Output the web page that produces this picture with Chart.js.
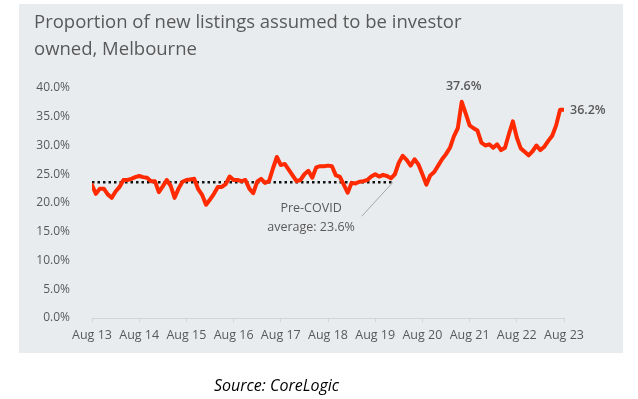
<!DOCTYPE html>
<html>
<head>
<meta charset="utf-8">
<script src="https://cdn.jsdelivr.net/npm/chart.js@4.4.1/dist/chart.umd.min.js"></script>
<style>
  html, body { margin: 0; padding: 0; background: #fff; }
  #wrap { width: 638px; height: 399px; }
</style>
</head>
<body>
<div id="wrap"><canvas id="chart" width="638" height="399"></canvas></div>
<script>
// tick labels on the x axis, one per year (every 12 months)
const yearLabels = ['Aug 13', 'Aug 14', 'Aug 15', 'Aug 16', 'Aug 17', 'Aug 18',
  'Aug 19', 'Aug 20', 'Aug 21', 'Aug 22', 'Aug 23'];
// monthly share of new listings assumed investor owned (%), Aug 13 .. Aug 23
const investorShare = [
  23.1, 21.6, 22.5, 22.5, 21.5, 20.9, 22.0, 22.8, 24.0, 24.0, 24.2, 24.5,
  24.7, 24.5, 24.4, 23.8, 23.8, 21.9, 22.9, 24.0, 23.0, 20.9, 22.5, 23.7,
  24.0, 24.1, 24.2, 22.4, 21.4, 19.7, 20.6, 21.6, 22.8, 22.8, 23.3, 24.6,
  24.0, 24.0, 23.8, 24.0, 22.5, 21.7, 23.7, 24.2, 23.5, 23.8, 26.0, 28.0,
  26.6, 26.8, 25.8, 24.8, 23.8, 24.0, 25.0, 25.6, 24.4, 26.2, 26.4, 26.4,
  26.5, 26.4, 24.8, 24.6, 23.2, 21.8, 23.5, 23.4, 23.7, 23.8, 24.0, 24.6,
  25.0, 24.6, 24.9, 24.7, 24.3, 25.0, 27.0, 28.2, 27.5, 26.5, 27.6, 26.7,
  25.0, 23.2, 24.8, 25.4, 26.5, 27.6, 28.5, 29.6, 31.6, 33.0, 37.6, 35.6,
  33.5, 33.0, 32.6, 30.5, 30.0, 30.2, 29.6, 30.2, 29.2, 29.6, 32.0, 34.2,
  31.4, 29.5, 28.9, 28.3, 29.0, 30.0, 29.2, 29.8, 30.8, 31.7, 33.5, 36.2,
  36.2
];
// pre-COVID average and the month index where that dotted line stops
const preCovidAvg = 23.6;
const preCovidEnd = 76.5;

const linePoints = investorShare.map((v, i) => ({ x: i, y: v }));
const avgPoints = [{ x: 0, y: preCovidAvg }, { x: preCovidEnd, y: preCovidAvg }];

const grey = '#595959';

//panel background
const panelPlugin = {
  id: 'panel',
  beforeDraw(chart) {
    const ctx = chart.ctx;
    ctx.save();
    ctx.fillStyle = '#ffffff';
    ctx.fillRect(0, 0, chart.width, chart.height);
    ctx.fillStyle = '#e9ecef';
    ctx.fillRect(19, 4, 604, 349);
    ctx.restore();
  }
};

//title, source, annotation and value labels
const textPlugin = {
  id: 'texts',
  afterDraw(chart) {
    const ctx = chart.ctx;
    const xs = chart.scales.x;
    const ys = chart.scales.y;
    ctx.save();
    ctx.fillStyle = grey;
    ctx.font = '18.5px "Open Sans"';
    ctx.textAlign = 'left';
    ctx.textBaseline = 'middle';
    ctx.fillText('Proportion of new listings assumed to be investor', 34, 23);
    ctx.fillText('owned, Melbourne', 34, 50);

    // leader line for the average note
    ctx.strokeStyle = '#a6a6a6';
    ctx.lineWidth = 1;
    ctx.beginPath();
    ctx.moveTo(xs.getPixelForValue(68.6), ys.getPixelForValue(17.7));
    ctx.lineTo(xs.getPixelForValue(preCovidEnd), ys.getPixelForValue(preCovidAvg));
    ctx.stroke();

    ctx.font = '12.5px "Open Sans"';
    ctx.textAlign = 'center';
    const ax = xs.getPixelForValue(55.7);
    ctx.fillText('Pre-COVID', ax, ys.getPixelForValue(19.0));
    ctx.fillText('average: ' + preCovidAvg.toFixed(1) + '%', ax, ys.getPixelForValue(15.8));

    // peak and last value labels
    const meta = chart.getDatasetMeta(0);
    let peak = 0;
    investorShare.forEach((v, i) => { if (v > investorShare[peak]) peak = i; });
    const pk = meta.data[peak];
    ctx.font = '600 12.5px "Open Sans"';
    ctx.fillText(investorShare[peak].toFixed(1) + '%', pk.x + 2, pk.y - 15);
    const last = meta.data[investorShare.length - 1];
    ctx.textAlign = 'left';
    ctx.fillText(investorShare[investorShare.length - 1].toFixed(1) + '%', last.x + 6, last.y + 1);

    // source note under the panel
    ctx.fillStyle = '#000000';
    ctx.font = 'italic 16px "Open Sans"';
    ctx.textAlign = 'left';
    ctx.fillText('Source: CoreLogic', 214, 386);
    ctx.restore();
  }
};

new Chart(document.getElementById('chart'), {
  type: 'line',
  data: {
    datasets: [
      {
        data: linePoints,
        borderColor: '#ff2a00',
        borderWidth: 4,
        pointRadius: 0,
        tension: 0,
        borderJoinStyle: 'round',
        borderCapStyle: 'round'
      },
      {
        data: avgPoints,
        borderColor: '#111111',
        borderWidth: 2.5,
        borderDash: [2.5, 3],
        pointRadius: 0,
        tension: 0
      }
    ]
  },
  options: {
    responsive: false,
    animation: false,
    layout: { padding: { left: 19, right: 74, top: 88, bottom: 46 } },
    plugins: {
      legend: { display: false },
      tooltip: { enabled: false },
      title: { display: false }
    },
    scales: {
      x: {
        type: 'linear',
        min: 0,
        max: 120,
        afterFit: s => { s.height = 35; },
        afterBuildTicks: s => {
          s.ticks = yearLabels.map((l, i) => ({ value: i * 12 }));
        },
        ticks: {
          autoSkip: false,
          maxRotation: 0,
          padding: 6,
          color: grey,
          font: { family: 'Open Sans', size: 12.5 },
          callback: v => yearLabels[v / 12]
        },
        grid: {
          drawOnChartArea: false,
          drawTicks: true,
          tickLength: 4,
          color: '#d4d4d4'
        },
        border: { color: '#d4d4d4', width: 1 }
      },
      y: {
        min: 0,
        max: 40,
        afterFit: s => { s.width = 73; },
        ticks: {
          stepSize: 5,
          padding: 14,
          color: grey,
          font: { family: 'Open Sans', size: 12 },
          callback: v => v.toFixed(1) + '%'
        },
        grid: { display: false },
        border: { display: false }
      }
    }
  },
  plugins: [panelPlugin, textPlugin]
});
</script>
</body>
</html>
